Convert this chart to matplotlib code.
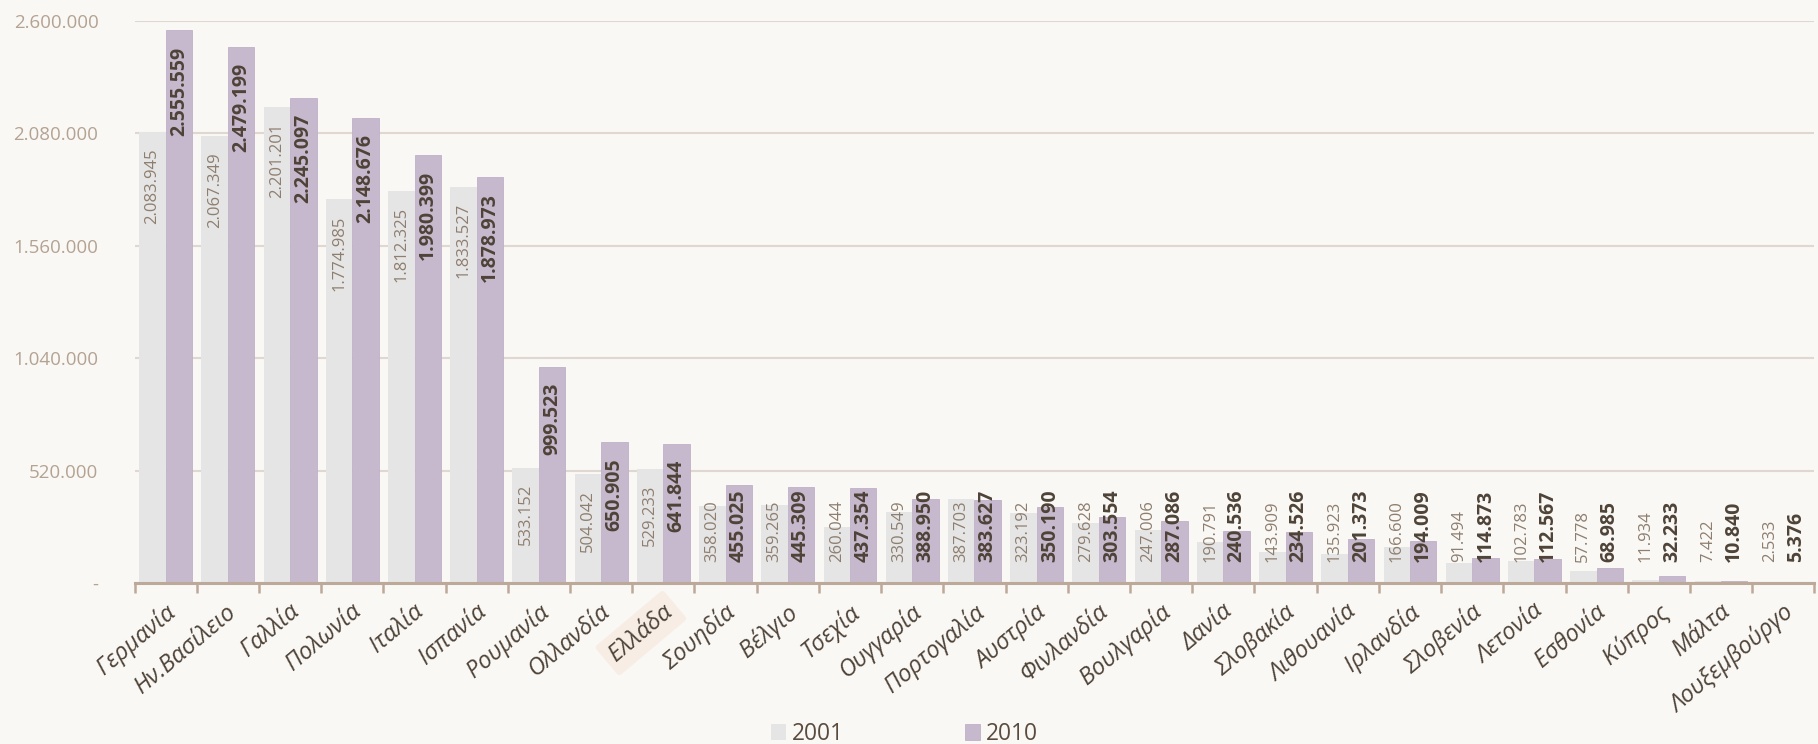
import numpy as np
import matplotlib
matplotlib.use("Agg")
import matplotlib.pyplot as plt
from matplotlib.ticker import FixedLocator, FuncFormatter
import matplotlib.transforms as mtransforms

countries = ['Γερμανία', 'Ην.Βασίλειο', 'Γαλλία', 'Πολωνία', 'Ιταλία', 'Ισπανία',
             'Ρουμανία', 'Ολλανδία', 'Ελλάδα', 'Σουηδία', 'Βέλγιο', 'Τσεχία',
             'Ουγγαρία', 'Πορτογαλία', 'Αυστρία', 'Φινλανδία', 'Βουλγαρία', 'Δανία',
             'Σλοβακία', 'Λιθουανία', 'Ιρλανδία', 'Σλοβενία', 'Λετονία', 'Εσθονία',
             'Κύπρος', 'Μάλτα', 'Λουξεμβούργο']
values_2001 = [2083945, 2067349, 2201201, 1774985, 1812325, 1833527, 533152, 504042,
               529233, 358020, 359265, 260044, 330549, 387703, 323192, 279628, 247006,
               190791, 143909, 135923, 166600, 91494, 102783, 57778, 11934, 7422, 2533]
values_2010 = [2555559, 2479199, 2245097, 2148676, 1980399, 1878973, 999523, 650905,
               641844, 455025, 445309, 437354, 388950, 383627, 350190, 303554, 287086,
               240536, 234526, 201373, 194009, 114873, 112567, 68985, 32233, 10840, 5376]
series_names = ['2001', '2010']
y_ticks = [0, 520000, 1040000, 1560000, 2080000, 2600000]
highlight = 'Ελλάδα'

BG = '#F9F8F4'
C2001 = '#E5E5E5'
C2010 = '#C6B9CD'
AXIS = '#BCA999'
GRID = '#E0D8D0'
YLAB = '#B4A393'
DARK = '#4F4338'
LIGHTLAB = '#8E7E6F'
FONT = ['Open Sans', 'DejaVu Sans']


def fmt(v):
    return '{:,}'.format(int(v)).replace(',', '.')


fig = plt.figure(figsize=(18.18, 7.44), dpi=100, facecolor=BG)
ax = fig.add_axes([0.074, 0.2164, 0.924, 0.7556])
ax.set_facecolor(BG)

x = np.arange(len(countries))
w = 0.425
b1 = ax.bar(x - w / 2, values_2001, w, color=C2001, label=series_names[0], zorder=2)
b2 = ax.bar(x + w / 2, values_2010, w, color=C2010, edgecolor='#BFB1C7', linewidth=0.6,
            label=series_names[1], zorder=2)

ax.set_xlim(-0.5, len(countries) - 0.5)
ax.set_ylim(0, 2600000)
ax.yaxis.set_major_locator(FixedLocator(y_ticks))
ax.yaxis.set_major_formatter(FuncFormatter(lambda v, p: '-' if v == 0 else fmt(v)))
ax.tick_params(axis='y', length=0, pad=26, labelsize=13.5, labelcolor=YLAB)
for lab in ax.get_yticklabels():
    lab.set_fontfamily(FONT)
ax.grid(axis='y', color=GRID, linewidth=1.5, zorder=0)
ax.set_axisbelow(True)

for s in ['top', 'right', 'left']:
    ax.spines[s].set_visible(False)
ax.spines['bottom'].set_color(AXIS)
ax.spines['bottom'].set_linewidth(2.2)
ax.spines['bottom'].set_zorder(3)

ax.set_xticks(x)
ax.set_xticks(np.arange(len(countries) + 1) - 0.5, minor=True)
ax.tick_params(axis='x', which='major', length=0, pad=12)
ax.tick_params(axis='x', which='minor', length=7, width=1.8, color=AXIS)
ax.set_xticklabels(countries, rotation=40, ha='right', va='top', rotation_mode='anchor',
                   fontsize=17, color=DARK, style='italic', fontfamily=FONT)
shift = mtransforms.ScaledTranslation(-1 / 72, 0, fig.dpi_scale_trans)
for lab in ax.get_xticklabels():
    lab.set_transform(lab.get_transform() + shift)
    if lab.get_text() == highlight:
        lab.set_bbox(dict(boxstyle='round,pad=0.3,rounding_size=0.15', fc='#F8EDE5', ec='none'))

# data labels: inside end, but never lower than a fixed floor above the axis
labels = []
for bars, vals, col, wt, fs in [(b1, values_2001, LIGHTLAB, 'normal', 12),
                                (b2, values_2010, DARK, 'bold', 14)]:
    for rect, v in zip(bars, vals):
        cx = rect.get_x() + rect.get_width() / 2
        t = ax.annotate(fmt(v), xy=(cx, v), xytext=(0, -11.5), textcoords='offset points',
                        rotation=90, ha='center', va='top', color=col, fontweight=wt,
                        fontsize=fs, fontfamily=FONT, zorder=4)
        labels.append((t, cx))

fig.canvas.draw()
r = fig.canvas.get_renderer()
base_y = ax.transData.transform((0, 0))[1]
floor_px = 21
for t, cx in labels:
    ext = t.get_window_extent(r)
    if ext.y0 < base_y + floor_px:
        t.xy = (cx, 0)
        t.xyann = (0, floor_px * 72 / fig.dpi)
        t.set_va('bottom')

leg = fig.legend(handles=[b1, b2], labels=series_names, loc='center', ncol=2,
                 bbox_to_anchor=(0.4975, 0.0134), frameon=False,
                 handlelength=0.66, handleheight=0.66, handletextpad=0.26, columnspacing=5.3,
                 prop={'family': FONT, 'size': 16.4})
for txt in leg.get_texts():
    txt.set_color('#5A4B3E')

fig.savefig('out.png', dpi=100, facecolor=BG)
